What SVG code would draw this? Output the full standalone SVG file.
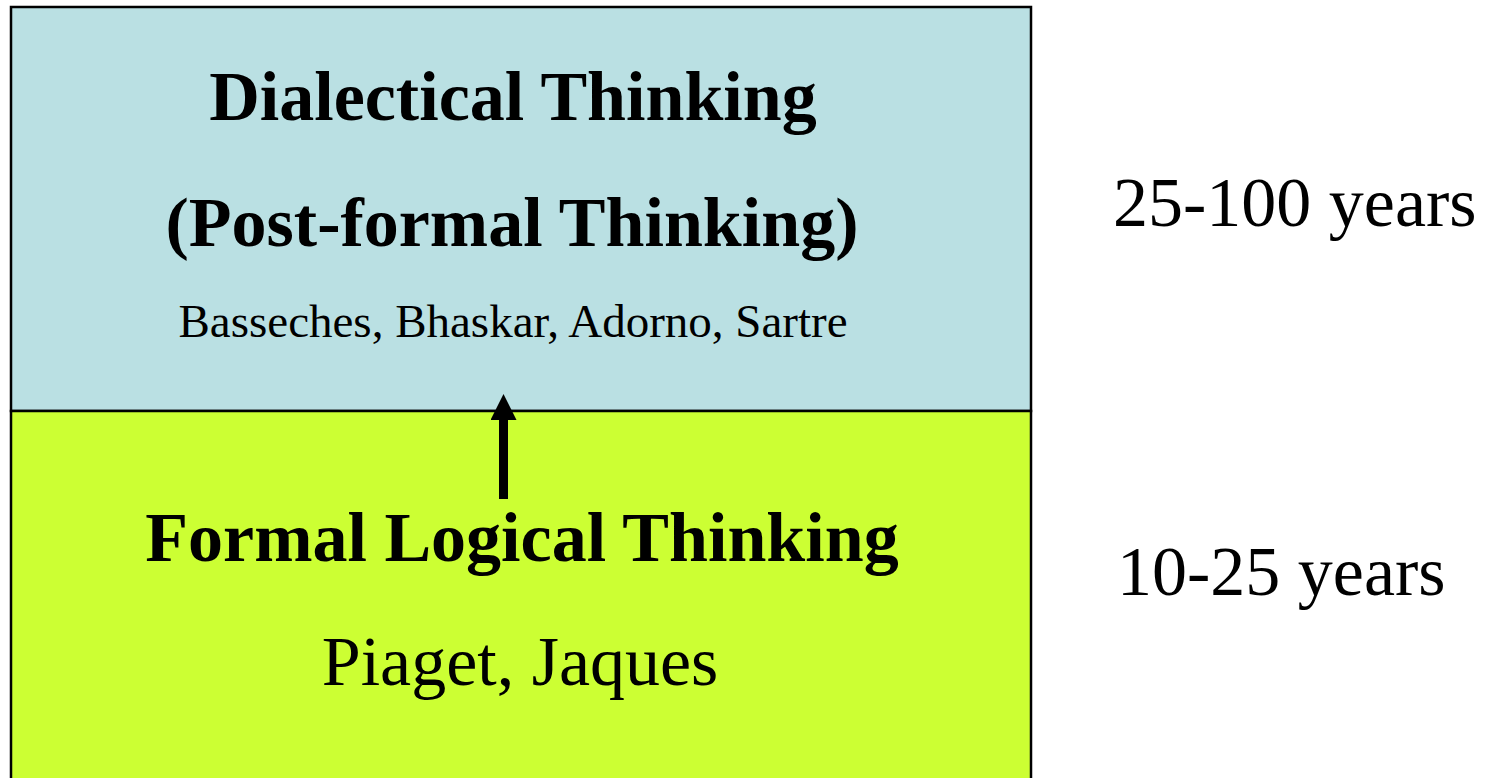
<svg xmlns="http://www.w3.org/2000/svg" width="1488" height="778" viewBox="0 0 1488 778">
<style>
.t{font-family:"Liberation Serif","Times New Roman",serif;fill:#000}
.b{font-weight:bold;font-size:70px}
.r{font-size:70px}
.s{font-size:47px}
</style>
<defs>
<marker id="ah" markerWidth="26" markerHeight="26" refX="0" refY="13" orient="auto" markerUnits="userSpaceOnUse" viewBox="0 0 26 26">
<path d="M0,0 L26,13 L0,26 Z" fill="#000"/>
</marker>
</defs>
<rect width="1488" height="778" fill="#fff"/>
<g id="dialectical">
<rect x="11" y="7" width="1020" height="404" fill="#BAE0E3" stroke="#000" stroke-width="2.5"/>
<text class="t b" x="513" y="120" text-anchor="middle">Dialectical Thinking</text>
<text class="t b" x="512" y="246" text-anchor="middle">(Post-formal Thinking)</text>
<text class="t s" x="513" y="337" text-anchor="middle">Basseches, Bhaskar, Adorno, Sartre</text>
</g>
<g id="formal">
<rect x="11" y="411" width="1020" height="380" fill="#CCFF33" stroke="#000" stroke-width="2.5"/>
<text class="t b" x="522" y="561" text-anchor="middle">Formal Logical Thinking</text>
<text class="t r" x="520" y="685" text-anchor="middle">Piaget, Jaques</text>
</g>
<g id="ages">
<text class="t r" x="1113" y="226">25-100 years</text>
<text class="t r" x="1117" y="595">10-25 years</text>
</g>
<g id="connectors">
<line x1="503.5" y1="499" x2="503.5" y2="420" stroke="#000" stroke-width="9" marker-end="url(#ah)"/>
</g>
</svg>
